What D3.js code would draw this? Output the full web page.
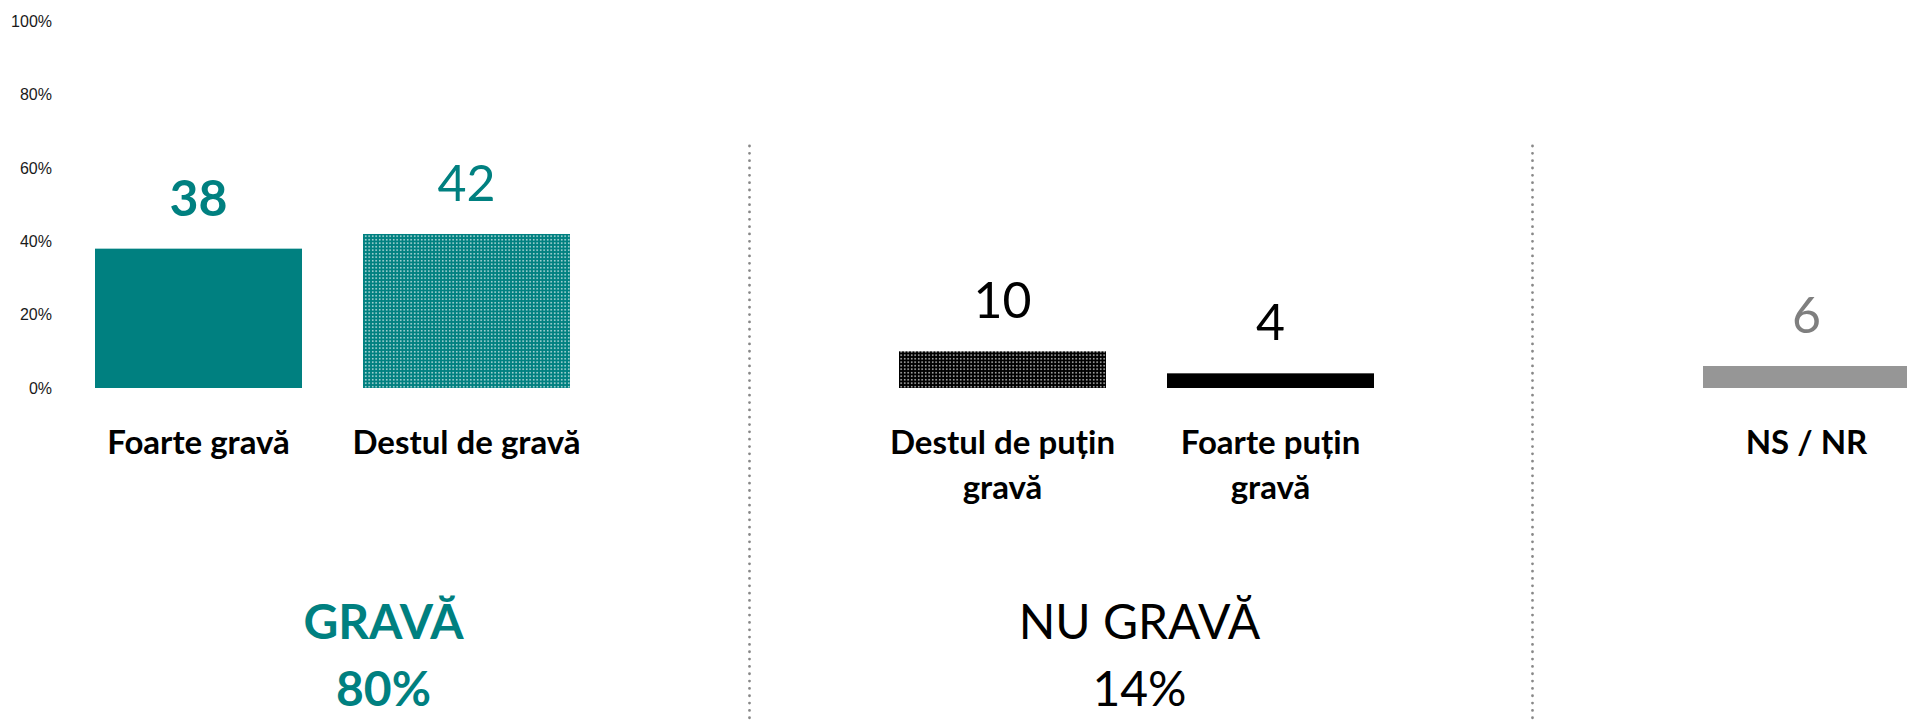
<!DOCTYPE html>
<html>
<head>
<meta charset="utf-8">
<script src="https://cdn.jsdelivr.net/npm/d3@7"></script>
<style>
  html, body { margin: 0; padding: 0; background: #ffffff; overflow: hidden; }
  svg { display: block; }
</style>
</head>
<body>
<svg id="chart" width="1907" height="723"></svg>
<script>
// ---- data ----
const categories = ["Foarte gravă", "Destul de gravă", "Destul de puțin gravă", "Foarte puțin gravă", "NS / NR"];
const values = [38, 42, 10, 4, 6];
const categoryGroup = [0, 0, 1, 1, 2];
const groupNames = ["GRAVĂ", "NU GRAVĂ"];
const groupTotals = [80, 14];
const yTicks = [0, 20, 40, 60, 80, 100];

// ---- styling ----
const TEAL = "#008080";
const barFills = ["solid-teal", "dots-teal", "dots-black", "solid-black", "solid-gray"];
const valueStyles = [
  { color: TEAL, weight: 700 },
  { color: TEAL, weight: 400 },
  { color: "#000000", weight: 400 },
  { color: "#000000", weight: 400 },
  { color: "#7f7f7f", weight: 400 }
];
const groupStyles = [
  { color: TEAL, weight: 700, dx: 51 },
  { color: "#000000", weight: 400, dx: 3 }
];

const svg = d3.select("#chart");
const W = 1907, H = 723;

// patterns
const defs = svg.append("defs");
function dotPattern(id, bg) {
  const p = defs.append("pattern").attr("id", id)
    .attr("patternUnits", "userSpaceOnUse").attr("width", 3.5).attr("height", 3.5);
  p.append("rect").attr("width", 3.5).attr("height", 3.5).attr("fill", bg);
  p.append("rect").attr("x", 1).attr("y", 1).attr("width", 1.4).attr("height", 1.4)
    .attr("fill", "#ffffff").attr("opacity", 0.9);
}
dotPattern("dots-teal", TEAL);
dotPattern("dots-black", "#000000");
const fillMap = {
  "solid-teal": TEAL,
  "dots-teal": "url(#dots-teal)",
  "dots-black": "url(#dots-black)",
  "solid-black": "#000000",
  "solid-gray": "#969696"
};

// slots: categories with blank gaps between groups
const slots = [];
categories.forEach((c, i) => {
  if (i > 0 && categoryGroup[i] !== categoryGroup[i - 1]) slots.push("__gap" + categoryGroup[i]);
  slots.push(c);
});

const x = d3.scaleBand().domain(slots).range([95, 1910]).paddingInner(0.2276).paddingOuter(0);
const y = d3.scaleLinear().domain([0, 100]).range([388, 21.3]);
const bw = x.bandwidth();

// y axis labels (no line)
const yAxis = d3.axisLeft(y).tickValues(yTicks).tickFormat(d => d + "%").tickSize(0).tickPadding(0);
const gY = svg.append("g").attr("transform", "translate(52,0)").call(yAxis);
gY.select(".domain").remove();
gY.selectAll("text").attr("font-family", "'Liberation Sans', Arial, sans-serif")
  .attr("font-size", 16).attr("fill", "#1a1a1a");

// dividers between groups
const gapOffsets = [15, -6];
slots.filter(s => s.startsWith("__gap")).forEach((s, i) => {
  const dx = x(s) + bw / 2 + gapOffsets[i];
  svg.append("line").attr("x1", dx).attr("x2", dx).attr("y1", 146).attr("y2", H + 5)
    .attr("stroke", "#888888").attr("stroke-width", 2.8)
    .attr("stroke-linecap", "round").attr("stroke-dasharray", "0,7.33");
});

const data = categories.map((c, i) => ({ c, v: values[i], i }));

// bars
svg.append("g").selectAll("rect").data(data).join("rect")
  .attr("x", d => x(d.c)).attr("width", bw)
  .attr("y", d => y(d.v)).attr("height", d => y(0) - y(d.v))
  .attr("fill", d => fillMap[barFills[d.i]]);

// value labels
svg.append("g").selectAll("text").data(data).join("text")
  .attr("x", d => x(d.c) + bw / 2).attr("y", d => y(d.v) - 33)
  .attr("text-anchor", "middle")
  .attr("font-family", "Lato, 'Open Sans', sans-serif")
  .attr("font-size", 50)
  .attr("font-weight", d => valueStyles[d.i].weight)
  .attr("fill", d => valueStyles[d.i].color)
  .text(d => d.v);

// category labels with wrapping
const catG = svg.append("g");
data.forEach(d => {
  const t = catG.append("text")
    .attr("x", x(d.c) + bw / 2).attr("y", 454)
    .attr("text-anchor", "middle")
    .attr("font-family", "Lato, 'Open Sans', sans-serif")
    .attr("font-size", 33).attr("font-weight", 700).attr("fill", "#000000");
  const words = d.c.split(" ");
  let line = [];
  let ts = t.append("tspan").attr("x", x(d.c) + bw / 2).attr("dy", 0);
  words.forEach(w => {
    line.push(w);
    ts.text(line.join(" "));
    if (ts.node().getComputedTextLength() > 242 && line.length > 1) {
      line.pop();
      ts.text(line.join(" "));
      line = [w];
      ts = t.append("tspan").attr("x", x(d.c) + bw / 2).attr("dy", 45).text(w);
    }
  });
});

// group labels
groupNames.forEach((g, gi) => {
  const members = data.filter(d => categoryGroup[d.i] === gi);
  const left = x(members[0].c), right = x(members[members.length - 1].c) + bw;
  const cx = (left + right) / 2 + groupStyles[gi].dx;
  const t = svg.append("text").attr("text-anchor", "middle")
    .attr("font-family", "Lato, 'Open Sans', sans-serif")
    .attr("font-size", 48).attr("font-weight", groupStyles[gi].weight)
    .attr("fill", groupStyles[gi].color);
  t.append("tspan").attr("x", cx).attr("y", 639).text(g);
  t.append("tspan").attr("x", cx).attr("y", 706).text(groupTotals[gi] + "%");
});
</script>
</body>
</html>
